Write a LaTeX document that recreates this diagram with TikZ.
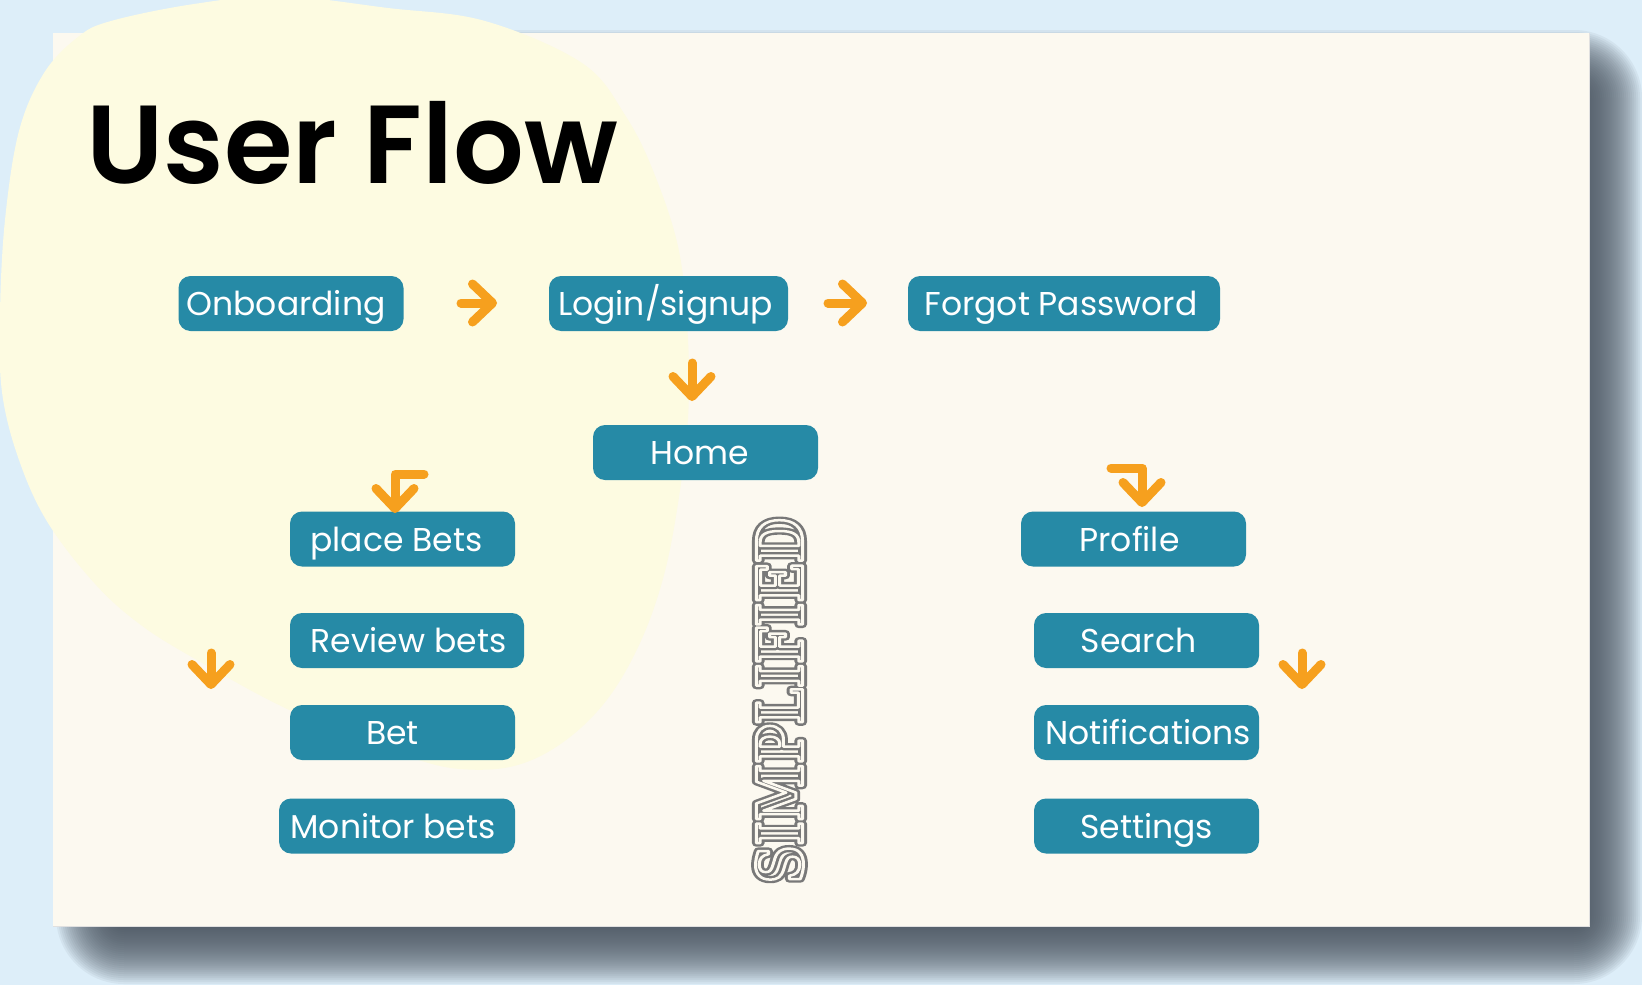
\documentclass[tikz,border=0pt]{standalone}
\usepackage{fontspec}
\usepackage{graphicx}
\usetikzlibrary{arrows.meta}
\newfontfamily\pop{Poppins}
\IfFontExistsTF{Poppins SemiBold}
  {\newfontfamily\poptitle{Poppins SemiBold}}
  {\newfontfamily\poptitle{Poppins}[FakeBold=0]}
\newfontfamily\slab{DejaVu Serif}
\definecolor{bgblue}{RGB}{221,238,249}
\definecolor{cardc}{RGB}{252,249,240}
\definecolor{blobc}{RGB}{253,251,225}
\definecolor{boxteal}{RGB}{38,138,166}
\definecolor{arrowor}{RGB}{246,160,30}
\definecolor{shadowc}{RGB}{72,82,94}
\definecolor{stampc}{RGB}{120,120,120}
% stroked (outline) glyphs with round joins
\newcommand{\strokedtext}[2]{\special{pdf:literal direct 1 Tr 1 j #1 w}#2\special{pdf:literal direct 0 Tr 0 j}}
% label nudged sideways inside its box
\newcommand{\nudged}[2]{\hspace*{#1}#2\hspace*{-#1}}
\begin{document}
\begin{tikzpicture}[x=1pt,y=-1pt,
  bx/.style={fill=boxteal, text=white, rounded corners=12pt, minimum height=55pt,
    inner sep=0pt, text height=24pt, text depth=0pt,
    font=\pop\fontsize{33}{40}\selectfont},
  arr/.style={draw=arrowor, line width=9pt, line cap=round, line join=round,
    -{Straight Barb[length=20pt,width=38pt,round]}}]
\useasboundingbox (0,0) rectangle (1642,985);
\clip (0,0) rectangle (1642,985);
\fill[bgblue] (0,0) rectangle (1642,985);

% soft drop shadow under the card
\foreach \d [evaluate=\d as \r using {max(1,\d+36)}] in {-32,-30,...,32}
  \fill[shadowc, fill opacity=0.068, rounded corners=\r pt]
    (88-\d,62-\d) rectangle (1610+\d,952+\d);

% card
\fill[cardc] (53,33) rectangle (1589,926);
\draw[black!12, line width=1pt] (1589,33) -- (1589,926) -- (53,926);

% yellow blob
\fill[blobc] plot[smooth cycle, tension=0.6] coordinates {
  (280,-4) (388,8) (485,21) (582,63) (625,115) (654,173) (679,251) (688,340)
  (688,418) (679,497) (664,575) (640,643) (606,701) (562,743) (514,766)
  (460,769) (412,758) (339,732) (271,701) (204,664) (145,628) (97,586)
  (48,523) (19,460) (2,392) (0,314) (5,220) (19,131) (44,73) (78,37)
  (111,21) (194,4)};

% title
\node[anchor=base west, inner sep=0pt, font=\poptitle\fontsize{111}{120}\selectfont]
  (title) at (86,183) {User Flow};

% boxes
\node[bx, minimum width=225pt] (onb)   at (291,303.5)   {\nudged{-5pt}{Onboarding}};
\node[bx, minimum width=239pt] (login) at (668.5,303.5) {\nudged{-3pt}{Login/signup}};
\node[bx, minimum width=312pt] (forgot) at (1064,303.5) {\nudged{-3pt}{Forgot Password}};
\node[bx, minimum width=225pt] (home)  at (705.5,452.5) {\nudged{-6pt}{Home}};
\node[bx, minimum width=225pt] (place) at (402.5,539)   {\nudged{-6pt}{place Bets}};
\node[bx, minimum width=234pt] (review) at (407,640.5)  {\nudged{1.5pt}{Review bets}};
\node[bx, minimum width=225pt] (bet)   at (402.5,732.5) {\nudged{-10pt}{Bet}};
\node[bx, minimum width=236pt] (monitor) at (397,826)   {\nudged{-4pt}{Monitor bets}};
\node[bx, minimum width=225pt] (profile) at (1133.5,539) {\nudged{-4pt}{Profile}};
\node[bx, minimum width=225pt] (search) at (1146.5,640.5) {\nudged{-8pt}{Search}};
\node[bx, minimum width=225pt] (notif) at (1146.5,732.5) {\nudged{1.5pt}{Notifications}};
\node[bx, minimum width=225pt] (settings) at (1146.5,826) {Settings};

% stamp
\node[rotate=90, inner sep=0pt, text=stampc] (stampa) at (779.5,700.5)
  {\resizebox{365pt}{47pt}{\slab\bfseries\fontsize{50}{50}\selectfont\strokedtext{7}{SIMPLIFIED}}};
\node[rotate=90, inner sep=0pt, text=cardc] (stampb) at (779.5,700.5)
  {\resizebox{365pt}{47pt}{\slab\bfseries\fontsize{50}{50}\selectfont\strokedtext{2.4}{SIMPLIFIED}}};

% arrows
\coordinate (a1s) at (461,303);  \coordinate (a1e) at (497,303);
\coordinate (a2s) at (828,303);  \coordinate (a2e) at (867,303);
\coordinate (a3s) at (692,363);  \coordinate (a3e) at (692,401);
\coordinate (a4s) at (424,474);  \coordinate (a4m) at (395,474); \coordinate (a4e) at (395,513);
\coordinate (a5s) at (211,653);  \coordinate (a5e) at (211,689);
\coordinate (a6s) at (1111,468); \coordinate (a6m) at (1142,468); \coordinate (a6e) at (1142,507);
\coordinate (a7s) at (1302,653); \coordinate (a7e) at (1302,689);
\draw[arr] (a1s) -- (a1e);
\draw[arr] (a2s) -- (a2e);
\draw[arr] (a3s) -- (a3e);
\draw[arr] (a4s) -- (a4m) -- (a4e);
\draw[arr] (a5s) -- (a5e);
\draw[arr] (a6s) -- (a6m) -- (a6e);
\draw[arr] (a7s) -- (a7e);
\end{tikzpicture}
\end{document}
